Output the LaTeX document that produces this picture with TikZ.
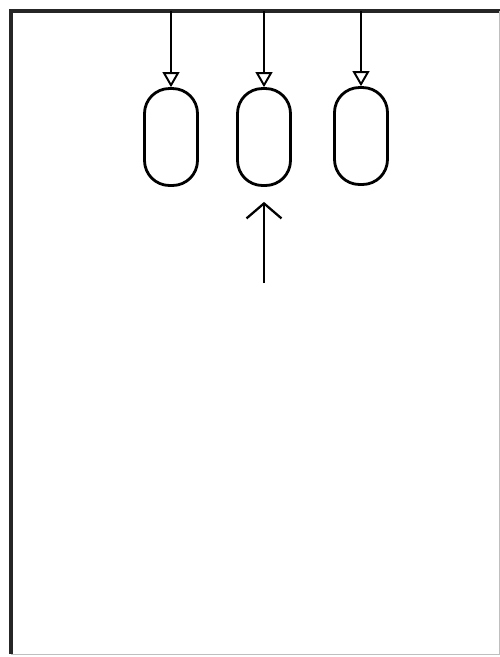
\documentclass[tikz,border=0pt]{standalone}
\usetikzlibrary{positioning, shapes.geometric, arrows.meta}

\begin{document}
\begin{tikzpicture}[x=0.02cm, y=-0.02cm,
    balloon/.style={draw, line width=1.6pt, rounded corners=0.5cm, minimum width=1.06cm, minimum height=1.94cm, inner sep=0pt},
    knot/.style={draw, regular polygon, regular polygon sides=3, shape border rotate=180, minimum size=0.32cm, inner sep=0pt, line width=1.1pt},
    string/.style={line width=1pt},
    push/.style={line width=1.3pt, -{Straight Barb[length=0.3cm, width=0.7cm]}}]
    \useasboundingbox (0,0) rectangle (500,657);
    % frame
    \draw[line width=1.8pt, black!85] (11,654) -- (11,11) -- (500,11);
    \draw[line width=0.5pt, black!25] (11,654) -- (499,654) -- (499,11);
    \coordinate (top) at (0,11);
    % balloons
    \node[balloon] (b1) at (171,137) {};
    \node[balloon] (b2) at (264,137) {};
    \node[balloon] (b3) at (361,136) {};
    \node[knot, above=0pt of b1] (k1) {};
    \node[knot, above=0pt of b2] (k2) {};
    \node[knot, above=0pt of b3] (k3) {};
    \draw[string] (k1) -- (k1 |- top);
    \draw[string] (k2) -- (k2 |- top);
    \draw[string] (k3) -- (k3 |- top);
    % push from below
    \coordinate (tail) at (264,283);
    \draw[push, shorten >=0.3cm] (tail) -- (b2);
\end{tikzpicture}
\end{document}
